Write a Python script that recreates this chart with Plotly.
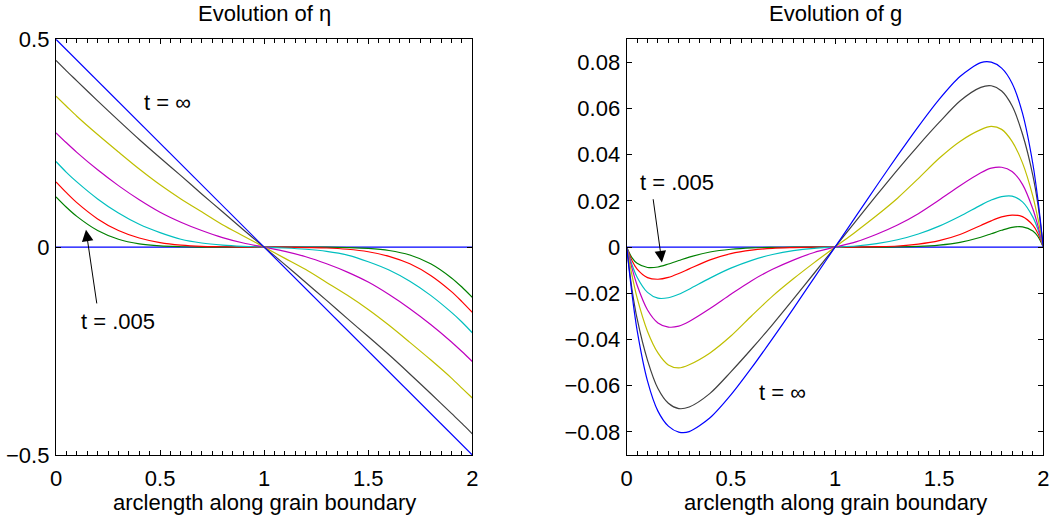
import plotly.graph_objects as go

# ---------------- data ----------------
x_ticks = [0, 0.5, 1, 1.5, 2]
x_tick_text = ["0", "0.5", "1", "1.5", "2"]
eta_tick_vals = [-0.5, 0, 0.5]
eta_tick_text = ["\u22120.5", "0", "0.5"]
g_tick_vals = [-0.08, -0.06, -0.04, -0.02, 0, 0.02, 0.04, 0.06, 0.08]
g_tick_text = ["\u22120.08", "\u22120.06", "\u22120.04", "\u22120.02", "0", "0.02", "0.04", "0.06", "0.08"]

# arclength samples for eta
s_eta = [0, 0.05, 0.1, 0.2, 0.3, 0.4, 0.5, 0.6, 0.7, 0.8, 0.9, 1.0,
         1.1, 1.2, 1.3, 1.4, 1.5, 1.6, 1.7, 1.8, 1.9, 1.95, 2.0]

eta_t0 = [0.0] * 23
eta_green = [0.121, 0.096, 0.074, 0.040, 0.019, 0.008, 0.003, 0.001, 0.0, 0.0, 0.0, 0.0,
             0.0, 0.0, 0.0, -0.001, -0.003, -0.008, -0.019, -0.040, -0.074, -0.096, -0.121]
eta_red = [0.157, 0.131, 0.107, 0.068, 0.040, 0.022, 0.011, 0.005, 0.002, 0.001, 0.0, 0.0,
           0.0, -0.001, -0.002, -0.005, -0.011, -0.022, -0.040, -0.068, -0.107, -0.131, -0.157]
eta_cyan = [0.206, 0.180, 0.157, 0.116, 0.082, 0.055, 0.035, 0.019, 0.010, 0.005, 0.002, 0.0,
            -0.002, -0.005, -0.010, -0.019, -0.035, -0.055, -0.082, -0.116, -0.157, -0.180, -0.206]
eta_magenta = [0.275, 0.251, 0.228, 0.186, 0.148, 0.114, 0.084, 0.060, 0.040, 0.023, 0.010, 0.0,
               -0.010, -0.023, -0.040, -0.060, -0.084, -0.114, -0.148, -0.186, -0.228, -0.251, -0.275]
eta_yellow = [0.363, 0.339, 0.315, 0.271, 0.229, 0.188, 0.150, 0.116, 0.085, 0.054, 0.027, 0.0,
              -0.027, -0.054, -0.085, -0.116, -0.150, -0.188, -0.229, -0.271, -0.315, -0.339, -0.363]
eta_black = [0.449, 0.424, 0.400, 0.352, 0.305, 0.259, 0.215, 0.172, 0.128, 0.085, 0.042, 0.0,
             -0.042, -0.085, -0.128, -0.172, -0.215, -0.259, -0.305, -0.352, -0.400, -0.424, -0.449]
s_eta_inf = [0, 1, 2]
eta_inf = [0.5, 0.0, -0.5]

# arclength samples for g
s_g = [0, 0.025, 0.05, 0.1, 0.15, 0.2, 0.25, 0.3, 0.4, 0.5, 0.6, 0.7, 0.8, 0.9, 1.0,
       1.1, 1.2, 1.3, 1.4, 1.5, 1.6, 1.7, 1.75, 1.8, 1.85, 1.9, 1.95, 1.975, 2.0]

g_t0 = [0.0] * 29
g_green = [0, -0.0045, -0.0070, -0.0088, -0.0086, -0.0073, -0.0058, -0.0043, -0.0021, -0.0009,
           -0.0003, -0.0001, 0, 0, 0, 0, 0, 0.0001, 0.0003, 0.0009, 0.0021, 0.0043, 0.0058,
           0.0073, 0.0086, 0.0088, 0.0070, 0.0045, 0]
g_red = [0, -0.0058, -0.0095, -0.0132, -0.0139, -0.0131, -0.0114, -0.0094, -0.0055, -0.0028,
         -0.0013, -0.0005, -0.0002, 0, 0, 0, 0.0002, 0.0005, 0.0013, 0.0028, 0.0055, 0.0094,
         0.0114, 0.0131, 0.0139, 0.0132, 0.0095, 0.0058, 0]
g_cyan = [0, -0.0075, -0.0130, -0.0196, -0.0221, -0.0219, -0.0204, -0.0182, -0.0134, -0.0091,
          -0.0057, -0.0032, -0.0015, -0.0005, 0, 0.0005, 0.0015, 0.0032, 0.0057, 0.0091, 0.0134,
          0.0182, 0.0204, 0.0219, 0.0221, 0.0196, 0.0130, 0.0075, 0]
g_magenta = [0, -0.009, -0.0165, -0.0272, -0.0328, -0.0346, -0.0342, -0.0322, -0.0266, -0.0204,
             -0.0145, -0.0096, -0.0056, -0.0023, 0, 0.0023, 0.0056, 0.0096, 0.0145, 0.0204,
             0.0266, 0.0322, 0.0342, 0.0346, 0.0328, 0.0272, 0.0165, 0.009, 0]
g_yellow = [0, -0.012, -0.022, -0.0365, -0.0458, -0.0510, -0.0523, -0.0509, -0.0458, -0.0385,
            -0.0297, -0.0212, -0.0137, -0.0067, 0, 0.0067, 0.0137, 0.0212, 0.0297, 0.0385,
            0.0458, 0.0509, 0.0523, 0.0510, 0.0458, 0.0365, 0.022, 0.012, 0]
g_black = [0, -0.018, -0.031, -0.049, -0.0612, -0.0676, -0.0699, -0.0692, -0.0633, -0.0540,
           -0.0440, -0.0335, -0.0225, -0.0113, 0, 0.0113, 0.0225, 0.0335, 0.0440, 0.0540,
           0.0633, 0.0692, 0.0699, 0.0676, 0.0612, 0.049, 0.031, 0.018, 0]
g_blue_inf = [0, -0.020, -0.036, -0.058, -0.071, -0.0775, -0.0801, -0.0799, -0.0739, -0.0640,
              -0.0522, -0.0396, -0.0266, -0.0133, 0, 0.0133, 0.0266, 0.0396, 0.0522, 0.0640,
              0.0739, 0.0799, 0.0801, 0.0775, 0.071, 0.058, 0.036, 0.020, 0]

# ---------------- styling ----------------
BLUE, GREEN, RED, CYAN = "#0000ff", "#008000", "#ff0000", "#00bfbf"
MAGENTA, YELLOW, DARK = "#bf00bf", "#bfbf00", "#404040"
FONT = "Liberation Sans, Arial, Helvetica, sans-serif"
LW = 1.2

fig = go.Figure()

def add(xs, ys, color, xa, ya, spline=True):
    fig.add_trace(go.Scatter(
        x=xs, y=ys, mode="lines", xaxis=xa, yaxis=ya, showlegend=False,
        line=dict(color=color, width=LW, shape="spline" if spline else "linear", smoothing=0.8),
        hoverinfo="skip"))

# left panel
add([s_eta[0], s_eta[-1]], [eta_t0[0], eta_t0[-1]], BLUE, "x", "y", False)
add(s_eta, eta_green, GREEN, "x", "y")
add(s_eta, eta_red, RED, "x", "y")
add(s_eta, eta_cyan, CYAN, "x", "y")
add(s_eta, eta_magenta, MAGENTA, "x", "y")
add(s_eta, eta_yellow, YELLOW, "x", "y")
add(s_eta, eta_black, DARK, "x", "y")
add(s_eta_inf, eta_inf, BLUE, "x", "y", False)

# right panel
add([s_g[0], s_g[-1]], [g_t0[0], g_t0[-1]], BLUE, "x2", "y2", False)
add(s_g, g_green, GREEN, "x2", "y2")
add(s_g, g_red, RED, "x2", "y2")
add(s_g, g_cyan, CYAN, "x2", "y2")
add(s_g, g_magenta, MAGENTA, "x2", "y2")
add(s_g, g_yellow, YELLOW, "x2", "y2")
add(s_g, g_black, DARK, "x2", "y2")
add(s_g, g_blue_inf, BLUE, "x2", "y2")

W, H = 1055, 517
def px_x(p):
    return p / W
def px_y(p):
    return 1 - p / H

tickfont = dict(family=FONT, size=22, color="black")
common_x = dict(range=[0, 2], tickvals=x_ticks, ticktext=x_tick_text, ticks="inside", ticklen=5,
                tickcolor="black", tickwidth=1, showline=True, linecolor="black", linewidth=1.3,
                mirror="ticks", showgrid=False, zeroline=False, tickfont=tickfont,
                ticklabelstandoff=3, automargin=False,
                minor=dict(dtick=0.05, ticks="inside", ticklen=4, tickcolor="black", showgrid=False))
common_y = dict(ticks="inside", ticklen=5, tickcolor="black", tickwidth=1, showline=True,
                linecolor="black", linewidth=1.3, mirror="ticks", showgrid=False, zeroline=False,
                tickfont=tickfont, ticklabelstandoff=1, automargin=False)

fig.update_layout(
    width=W, height=H,
    margin=dict(l=0, r=0, t=0, b=0, pad=0, autoexpand=False),
    paper_bgcolor="white", plot_bgcolor="white",
    font=dict(family=FONT, color="black", size=22),
    xaxis=dict(domain=[px_x(56), px_x(472.3)], anchor="y", **common_x),
    yaxis=dict(domain=[px_y(455), px_y(39.3)], anchor="x", range=[-0.5, 0.5],
               tickvals=eta_tick_vals, ticktext=eta_tick_text, **common_y),
    xaxis2=dict(domain=[px_x(626.7), px_x(1043.3)], anchor="y2", **common_x),
    yaxis2=dict(domain=[px_y(455), px_y(39.3)], anchor="x2", range=[-0.09, 0.09],
                tickvals=g_tick_vals, ticktext=g_tick_text, **common_y),
)

ann = []
# titles
ann.append(dict(text="Evolution of \u03b7", x=(px_x(56) + px_x(472.3)) / 2, y=px_y(13.5),
                xref="paper", yref="paper", showarrow=False, xanchor="center", yanchor="middle",
                font=dict(family=FONT, size=22)))
ann.append(dict(text="Evolution of g", x=(px_x(626.7) + px_x(1043.3)) / 2, y=px_y(13.5),
                xref="paper", yref="paper", showarrow=False, xanchor="center", yanchor="middle",
                font=dict(family=FONT, size=22)))
# axis labels
for a, b in [(56, 472.3), (626.7, 1043.3)]:
    ann.append(dict(text="arclength along grain boundary", x=(px_x(a) + px_x(b)) / 2, y=px_y(502),
                    xref="paper", yref="paper", showarrow=False, xanchor="center", yanchor="middle",
                    font=dict(family=FONT, size=22)))
# curve labels
ann.append(dict(text="t = \u221e", x=0.538, y=0.348, xref="x", yref="y", showarrow=False,
                font=dict(family=FONT, size=22)))
ann.append(dict(text="t = .005", x=0.296, y=-0.180, xref="x", yref="y", showarrow=False,
                font=dict(family=FONT, size=22)))
ann.append(dict(text="", x=0.144, y=0.042, ax=0.197, ay=-0.139, xref="x", yref="y",
                axref="x", ayref="y", showarrow=True, arrowhead=2, arrowsize=2.3, arrowwidth=1,
                arrowcolor="black"))
ann.append(dict(text="t = .005", x=0.242, y=0.0281, xref="x2", yref="y2", showarrow=False,
                font=dict(family=FONT, size=22)))
ann.append(dict(text="", x=0.169, y=-0.0066, ax=0.126, ay=0.0214, xref="x2", yref="y2",
                axref="x2", ayref="y2", showarrow=True, arrowhead=2, arrowsize=2.3, arrowwidth=1,
                arrowcolor="black"))
ann.append(dict(text="t = \u221e", x=0.746, y=-0.063, xref="x2", yref="y2", showarrow=False,
                font=dict(family=FONT, size=22)))
fig.update_layout(annotations=ann)

fig.write_html("out.html")
